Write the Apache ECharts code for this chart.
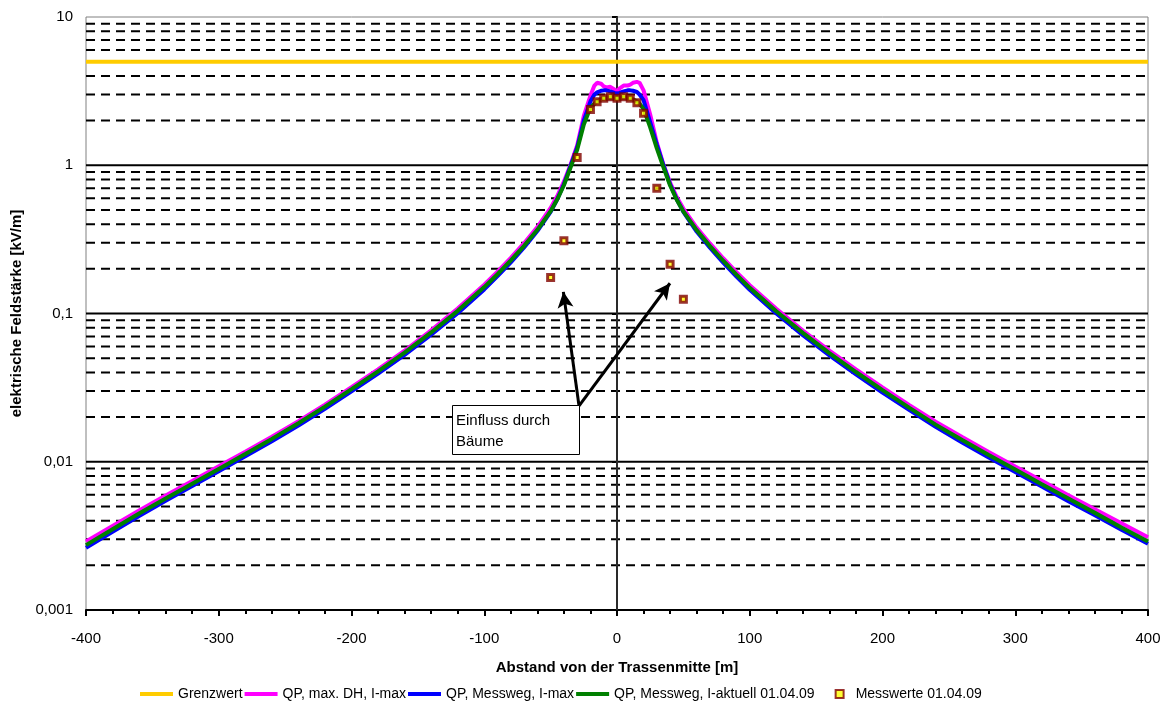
<!DOCTYPE html>
<html>
<head>
<meta charset="utf-8">
<title>elektrische Feldstärke</title>
<script src="https://cdn.jsdelivr.net/npm/echarts@6/dist/echarts.min.js"></script>
<style>
    html, body { margin: 0; padding: 0; background: #fff; }
    #Chart_1 { width: 1174px; height: 709px; }
</style>
</head>
<body>
<div id="Chart_1"></div>
<script>
// Abstand von der Trassenmitte [m]
var abstand = [-400, -380, -360, -340, -320, -300, -280, -260, -240, -220, -200, -180, -160, -140, -120, -100,
    -90, -80, -70, -60, -50, -45, -40, -35, -30, -25, -20,
    -17, -15, -12, -10, -8, -5, -2, 0, 2, 5, 8, 10, 12, 15, 17,
    20, 25, 30, 35, 40, 45, 50, 60, 70, 80, 90,
    100, 120, 140, 160, 180, 200, 220, 240, 260, 280, 300, 320, 340, 360, 380, 400];

// elektrische Feldstärke [kV/m]
var qpMaxDh = [0.0029, 0.00369, 0.00469, 0.00592, 0.00742, 0.00931, 0.01168, 0.01474, 0.01878, 0.02426, 0.0318, 0.0419, 0.0561, 0.0770, 0.108, 0.1565,
    0.1915, 0.2375, 0.298, 0.383, 0.515, 0.62, 0.775, 1.01, 1.36, 2.15, 2.95,
    3.45, 3.6, 3.55, 3.4, 3.35, 3.38, 3.25, 3.15, 3.3, 3.45, 3.45, 3.5, 3.6, 3.65, 3.6,
    3.2, 2.2, 1.42, 1.01, 0.765, 0.61, 0.51, 0.38, 0.297, 0.236, 0.190,
    0.155, 0.1075, 0.0768, 0.0562, 0.0420, 0.0317, 0.0242, 0.0186, 0.0147, 0.01165, 0.0093, 0.00745, 0.00595, 0.00478, 0.00385, 0.0031];

var qpMesswegImax = [0.00263, 0.00337, 0.00431, 0.00545, 0.00686, 0.00864, 0.01088, 0.01376, 0.01756, 0.02273, 0.0298, 0.0393, 0.0525, 0.0719, 0.1005, 0.1454,
    0.1785, 0.2215, 0.279, 0.360, 0.485, 0.59, 0.745, 0.99, 1.32, 2.0, 2.7,
    3.0, 3.1, 3.18, 3.2, 3.2, 3.15, 3.08, 3.05, 3.08, 3.15, 3.2, 3.2, 3.18, 3.12, 3.0,
    2.75, 1.95, 1.38, 1.0, 0.745, 0.59, 0.485, 0.357, 0.278, 0.2205, 0.1775,
    0.1445, 0.0999, 0.0714, 0.0521, 0.0389, 0.0293, 0.0224, 0.0172, 0.0135, 0.0107, 0.00854, 0.0068, 0.00542, 0.00435, 0.00348, 0.0028];

var qpMesswegAktuell = [0.00274, 0.0035, 0.00447, 0.00565, 0.00711, 0.00895, 0.01127, 0.01426, 0.0182, 0.02355, 0.0309, 0.0407, 0.0544, 0.0745, 0.1042, 0.1507,
    0.1841, 0.228, 0.286, 0.367, 0.49, 0.589, 0.733, 0.966, 1.27, 1.88, 2.45,
    2.6, 2.7, 2.78, 2.82, 2.84, 2.85, 2.83, 2.8, 2.83, 2.85, 2.84, 2.82, 2.78, 2.7, 2.6,
    2.4, 1.8, 1.3, 0.97, 0.73, 0.585, 0.488, 0.365, 0.285, 0.227, 0.183,
    0.149, 0.1035, 0.074, 0.054, 0.0403, 0.0304, 0.0232, 0.0178, 0.014, 0.0111, 0.00885, 0.00705, 0.00565, 0.00452, 0.0036, 0.0029];

var grenzwert = 5;

// Messwerte 01.04.09
var messAbstand = [-50, -40, -30, -20, -15, -10, -5, 0, 5, 10, 15, 20, 30, 40, 50];
var messWerte = [0.175, 0.31, 1.13, 2.38, 2.68, 2.83, 2.9, 2.83, 2.9, 2.83, 2.64, 2.24, 0.70, 0.215, 0.125];

// Gitterlinien
var gridMajor = [0.01, 0.1, 1];
var gridMinor = [0.002, 0.003, 0.004, 0.005, 0.006, 0.007, 0.008, 0.009,
    0.02, 0.03, 0.04, 0.05, 0.06, 0.07, 0.08, 0.09,
    0.2, 0.3, 0.4, 0.5, 0.6, 0.7, 0.8, 0.9,
    2, 3, 4, 5, 6, 7, 8, 9];

var legendNames = ['Grenzwert', 'QP, max. DH, I-max', 'QP, Messweg, I-max', 'QP, Messweg, I-aktuell 01.04.09', 'Messwerte 01.04.09'];

var fontFamily = '"Liberation Sans", Arial, sans-serif';
var chart1 = echarts.init(document.getElementById('Chart_1'));

function pairs(xs, ys) {
    var out = [];
    for (var i = 0; i < xs.length; i++) {
        out.push([xs[i], ys[i]]);
    }
    return out;
}

function gridSeries(v, dashed) {
    return {
        type: 'line',
        z: 1,
        silent: true,
        symbol: 'none',
        animation: false,
        lineStyle: {color: '#000', width: 2, type: dashed ? [9, 6] : 'solid'},
        data: [[-400, v], [400, v]]
    };
}

var series = [];
gridMinor.forEach(function (v) { series.push(gridSeries(v, true)); });
gridMajor.forEach(function (v) { series.push(gridSeries(v, false)); });
// senkrechte Linie bei 0
series.push({
    type: 'line', z: 1, silent: true, symbol: 'none', animation: false,
    lineStyle: {color: '#555', width: 1},
    data: [[0, 0.001], [0, 10]]
});
series.push({
    name: legendNames[0], type: 'line', symbol: 'none', animation: false, z: 2,
    lineStyle: {color: '#FFCC00', width: 4}, itemStyle: {color: '#FFCC00'},
    data: [[-400, grenzwert], [400, grenzwert]]
});
series.push({
    name: legendNames[1], type: 'line', symbol: 'none', animation: false, z: 2,
    lineStyle: {color: '#FF00FF', width: 4}, itemStyle: {color: '#FF00FF'},
    data: pairs(abstand, qpMaxDh)
});
series.push({
    name: legendNames[2], type: 'line', symbol: 'none', animation: false, z: 2,
    lineStyle: {color: '#0000FF', width: 4}, itemStyle: {color: '#0000FF'},
    data: pairs(abstand, qpMesswegImax)
});
series.push({
    name: legendNames[3], type: 'line', symbol: 'none', animation: false, z: 2,
    lineStyle: {color: '#008000', width: 4}, itemStyle: {color: '#008000'},
    data: pairs(abstand, qpMesswegAktuell)
});
series.push({
    name: legendNames[4], type: 'scatter', symbol: 'rect', symbolSize: 6, animation: false, z: 3,
    itemStyle: {color: '#FFFF00', borderColor: '#800000', borderWidth: 3},
    data: pairs(messAbstand, messWerte),
    markLine: {
        silent: true,
        animation: false,
        symbol: ['none', 'arrow'],
        symbolSize: [12, 16],
        label: {show: false},
        lineStyle: {color: '#000', width: 3, type: 'solid'},
        data: [
            [{coord: [-28.6, 0.0238]}, {coord: [-40.4, 0.14]}],
            [{coord: [-28.6, 0.0238]}, {coord: [39.9, 0.16]}]
        ]
    }
});

var lineIcon = 'path://M0,0H40V5H0Z';
var option1 = {
    backgroundColor: '#fff',
    textStyle: {fontFamily: fontFamily},
    grid: {
        left: 86, right: 26, top: 17, bottom: 99,
        outerBoundsMode: 'none',
        containLabel: false,
        show: true, borderColor: '#808080', borderWidth: 1
    },
    legend: {
        data: [
            {name: legendNames[0], icon: lineIcon},
            {name: legendNames[1], icon: lineIcon},
            {name: legendNames[2], icon: lineIcon},
            {name: legendNames[3], icon: lineIcon},
            {name: legendNames[4], icon: 'path://M0,5H0.01M18,1H26V9H18ZM33,5H33.01'}
        ],
        left: 140,
        top: 687,
        itemWidth: 33,
        itemHeight: 9,
        itemGap: 2,
        padding: 0,
        textStyle: {fontSize: 14, color: '#000', fontFamily: fontFamily}
    },
    xAxis: {
        type: 'value',
        min: -400,
        max: 400,
        interval: 100,
        name: 'Abstand von der Trassenmitte [m]',
        nameLocation: 'middle',
        nameGap: 50,
        nameTextStyle: {fontSize: 15, fontWeight: 'bold', color: '#000', fontFamily: fontFamily},
        axisLine: {onZero: false, lineStyle: {color: '#000', width: 2}},
        axisTick: {length: 6, lineStyle: {color: '#000', width: 2}},
        minorTick: {show: true, splitNumber: 5, length: 4, lineStyle: {color: '#000', width: 2}},
        axisLabel: {fontSize: 15, color: '#000', margin: 21, fontFamily: fontFamily},
        splitLine: {show: false}
    },
    yAxis: {
        type: 'log',
        logBase: 10,
        min: 0.001,
        max: 10,
        name: 'elektrische Feldstärke [kV/m]',
        nameLocation: 'middle',
        nameGap: 56,
        nameTextStyle: {fontSize: 15, fontWeight: 'bold', color: '#000', fontFamily: fontFamily},
        axisLine: {show: true, lineStyle: {color: '#000', width: 2}},
        axisTick: {show: true, length: 5, lineStyle: {color: '#000', width: 2}},
        axisLabel: {
            fontSize: 15, color: '#000', margin: 13, fontFamily: fontFamily,
            formatter: function (v) { return String(v).replace('.', ','); }
        },
        splitLine: {show: false}
    },
    graphic: [
        {
            type: 'rect',
            left: 452, top: 405,
            shape: {width: 127, height: 49},
            style: {fill: '#fff', stroke: '#000', lineWidth: 1},
            z: 10
        },
        {
            type: 'text',
            left: 456, top: 410,
            style: {text: 'Einfluss durch\nBäume', fill: '#000', font: '15px ' + fontFamily, lineHeight: 21},
            z: 11
        }
    ],
    series: series
};
chart1.setOption(option1);
</script>
</body>
</html>
